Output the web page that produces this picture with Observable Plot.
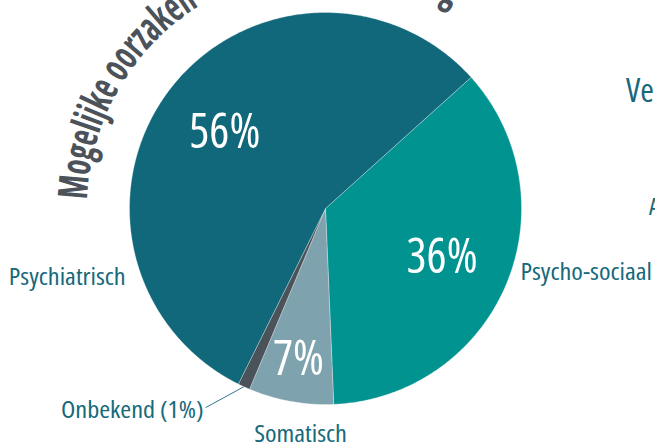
<!DOCTYPE html>
<html><head><meta charset="utf-8">
<script src="https://cdn.jsdelivr.net/npm/d3@7"></script>
<script src="https://cdn.jsdelivr.net/npm/@observablehq/plot@0.6"></script>
<style>
html,body{margin:0;padding:0;background:#fff;overflow:hidden}
.cond{font-stretch:75%}
</style></head><body><div id="chart"></div>
<script>
// ---- data ----
const categories = ["Psycho-sociaal", "Somatisch", "Onbekend", "Psychiatrisch"];
const values = [36, 7, 1, 56];
const percentLabels = ["36%", "7%", "", "56%"];
const outerLabels = ["Psycho-sociaal", "Somatisch", "Onbekend (1%)", "Psychiatrisch"];
const colors = ["#00938f", "#7fa2af", "#4a535a", "#11687a"];
const titleText = "Mogelijke oorzaken";
const titleTail = "g";
const sideTexts = ["Ve", "A"];

// ---- layout (not data) ----
const W = 655, H = 445;
const CX = 325, CY = 208, R = 196;
const startDeg = 48;
const outerPlace = {
  "Psycho-sociaal": [108.2, 1.047, "start"],
  "Somatisch": [186.3, 1.16, "middle"],
  "Onbekend": [211.1, 1.204, "end"],
  "Psychiatrisch": [250.9, 1.079, "end"]
};
const FONT = "'Open Sans', 'DejaVu Sans Condensed', sans-serif";

const rad = d => d * Math.PI / 180;
const polar = (deg, r) => [r * Math.sin(rad(deg)), r * Math.cos(rad(deg))];

const pie = d3.pie().sort(null).value(d => d)
  .startAngle(rad(startDeg)).endAngle(rad(startDeg + 360))(values);

const slicePts = [];
pie.forEach((p, i) => {
  const a0 = p.startAngle * 180 / Math.PI, a1 = p.endAngle * 180 / Math.PI;
  const n = Math.max(4, Math.ceil((a1 - a0) / 0.5));
  slicePts.push({cat: categories[i], x: 0, y: 0});
  for (let k = 0; k <= n; k++) {
    const [x, y] = polar(a0 + (a1 - a0) * k / n, 1);
    slicePts.push({cat: categories[i], x, y});
  }
  slicePts.push({cat: categories[i], x: 0, y: 0});
});

const midDeg = p => ((p.startAngle + p.endAngle) / 2) * 180 / Math.PI;
const pctData = pie.map((p, i) => {
  const r = values[i] < 10 ? 0.78 : 0.645;
  const [x, y] = polar(midDeg(p), r);
  return {x, y, t: percentLabels[i]};
}).filter(d => d.t);

const outerData = categories.map((c, i) => {
  const [a, r, anchor] = outerPlace[c];
  const [x, y] = polar(a, r);
  return {x, y, t: outerLabels[i], anchor, cat: c, mid: midDeg(pie[i])};
});
const onb = outerData.find(d => d.cat === "Onbekend");
const [lx1, ly1] = polar(onb.mid, 1.0);
const leader = [{x1: lx1, y1: ly1, x2: onb.x + 0.01, y2: onb.y + 0.015}];

const xDom = [-CX / R, (W - CX) / R];
const yDom = [-(H - CY) / R, CY / R];

const textMark = (anchor) => Plot.text(outerData.filter(d => d.anchor === anchor), {
  x: "x", y: "y", text: "t", textAnchor: anchor,
  fill: "#16697b", fontSize: 23.5, fontFamily: FONT, className: "cond outer-label"
});

const plot = Plot.plot({
  width: W, height: H,
  margin: 0, marginTop: 0, marginRight: 0, marginBottom: 0, marginLeft: 0,
  x: {domain: xDom, range: [0, W], axis: null},
  y: {domain: yDom, range: [H, 0], axis: null},
  color: {domain: categories, range: colors},
  style: {background: "#fff", overflow: "hidden"},
  marks: [
    Plot.line(slicePts, {x: "x", y: "y", z: "cat", fill: "cat", stroke: "#ffffff", strokeWidth: 0.6, strokeOpacity: 0.5, curve: "linear"}),
    Plot.text(pctData, {x: "x", y: "y", text: "t", fill: "#ffffff", fontSize: 49, fontFamily: FONT, className: "cond pct-label"}),
    textMark("start"), textMark("middle"), textMark("end"),
    Plot.link(leader, {x1: "x1", y1: "y1", x2: "x2", y2: "y2", stroke: "#16697b", strokeWidth: 0.9})
  ]
});

document.getElementById("chart").appendChild(plot);

const condense = (sel, k) => {
  plot.querySelectorAll(sel).forEach(el => {
    const w = el.getComputedTextLength();
    el.setAttribute("textLength", w * k);
    el.setAttribute("lengthAdjust", "spacingAndGlyphs");
  });
};
condense(".outer-label text", 1.12);
condense(".pct-label text", 0.965);

// curved title
const sx = plot.scale("x"), sy = plot.scale("y");
const cx = sx.apply(0), cy = sy.apply(0), rpx = sx.apply(1) - sx.apply(0);
const svg = d3.select(plot);
const rT = 238 / R * rpx;
const arcPath = (a0, a1, r) => {
  const p0 = [cx + r * Math.sin(rad(a0)), cy - r * Math.cos(rad(a0))];
  const p1 = [cx + r * Math.sin(rad(a1)), cy - r * Math.cos(rad(a1))];
  return `M${p0[0]},${p0[1]} A${r},${r} 0 ${a1 - a0 > 180 ? 1 : 0} 1 ${p1[0]},${p1[1]}`;
};
const defs = svg.append("defs");
defs.append("path").attr("id", "titleArc").attr("d", arcPath(-88, 80, rT));
const arcLen = (a0, a1) => rad(a1 - a0) * rT;
const titleG = svg.append("g").attr("class", "cond").attr("text-anchor", "start")
  .attr("fill", "#4b5259").attr("font-family", FONT).attr("font-weight", "bold").attr("font-size", 41);
const meas = titleG.append("text").attr("x", -999).attr("y", -999).text(titleText);
const natW = meas.node().getComputedTextLength();
const measG = titleG.append("text").attr("x", -999).attr("y", -999).text(titleTail);
const natG = measG.node().getComputedTextLength();
meas.remove(); measG.remove();
const targetW = arcLen(-88, -32);
const kT = targetW / natW;
titleG.append("text").attr("textLength", targetW).attr("lengthAdjust", "spacingAndGlyphs")
  .append("textPath").attr("href", "#titleArc").text(titleText);
titleG.append("text").attr("textLength", natG * kT).attr("lengthAdjust", "spacingAndGlyphs")
  .append("textPath").attr("href", "#titleArc").attr("startOffset", arcLen(-88, 29)).text(titleTail);

const side = svg.append("g").attr("class", "cond").attr("text-anchor", "start")
  .attr("fill", "#16697b").attr("font-family", FONT);
side.append("text").attr("x", 626).attr("y", 102).attr("font-size", 33).text(sideTexts[0]);
side.append("text").attr("x", 649).attr("y", 215).attr("font-size", 24).text(sideTexts[1]);
</script></body></html>
